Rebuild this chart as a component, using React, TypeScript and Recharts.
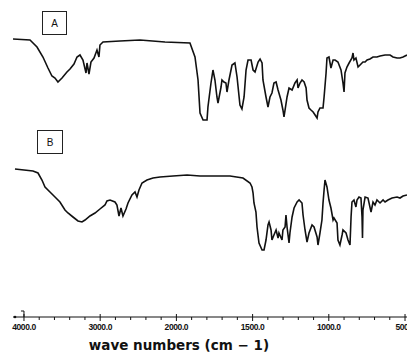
import React from "react";
import { LineChart, Line, XAxis, YAxis } from "recharts";

// ── Data (wavenumber cm-1 / relative transmittance) ──────────────────────
const aWave = [
  4144, 3921, 3829, 3751, 3685, 3633, 3593, 3554, 3501, 3436, 3396, 3344, 3304, 3265, 3226,
  3186, 3173, 3147, 3121, 3081, 3042, 3016, 3003, 2963, 2740, 2478, 2150, 1911, 1878, 1858,
  1845, 1825, 1799, 1793, 1773, 1760, 1747, 1734, 1727, 1707, 1701, 1688, 1675, 1668, 1655,
  1635, 1616, 1602, 1583, 1570, 1556, 1543, 1530, 1510, 1497, 1484, 1464, 1451, 1438, 1432,
  1412, 1399, 1386, 1373, 1360, 1346, 1333, 1314, 1301, 1294, 1274, 1261, 1241, 1222, 1208,
  1202, 1189, 1176, 1162, 1149, 1143, 1130, 1117, 1103, 1090, 1077, 1071, 1058, 1038, 1031,
  1018, 1012, 999, 986, 972, 959, 940, 920, 907, 900, 894, 881, 867, 848, 841,
  835, 822, 808, 795, 776, 762, 749, 730, 710, 684, 664, 631, 598, 579, 552,
  533, 513, 487,
];
const aT = [
  101, 100, 93, 83, 72, 64, 62, 58, 62, 68, 71, 76, 83, 85, 80,
  67, 77, 66, 78, 82, 90, 83, 95, 98, 99, 100, 98, 97, 83, 60,
  27, 20, 20, 33, 57, 70, 60, 43, 37, 53, 60, 58, 57, 48, 60,
  75, 77, 63, 35, 31, 43, 70, 80, 80, 70, 68, 78, 81, 77, 60,
  43, 33, 43, 47, 57, 58, 50, 40, 30, 23, 43, 52, 50, 57, 60,
  52, 57, 60, 58, 52, 40, 32, 30, 28, 25, 22, 28, 32, 32, 43,
  67, 82, 83, 72, 80, 80, 78, 70, 57, 48, 67, 73, 77, 82, 87,
  80, 82, 73, 75, 78, 78, 80, 81, 83, 83, 84, 85, 85, 83, 82,
  82, 83, 85,
];

const bWave = [
  4118, 3882, 3816, 3764, 3724, 3659, 3593, 3528, 3462, 3423, 3357, 3291, 3239, 3199, 3134,
  3068, 3003, 2937, 2911, 2871, 2806, 2780, 2753, 2727, 2701, 2661, 2635, 2583, 2543, 2517,
  2491, 2451, 2386, 2307, 2215, 2045, 1930, 1845, 1648, 1563, 1517, 1504, 1497, 1491, 1478,
  1471, 1458, 1438, 1425, 1412, 1399, 1392, 1379, 1373, 1360, 1346, 1333, 1327, 1307, 1301,
  1287, 1281, 1274, 1261, 1255, 1241, 1228, 1208, 1195, 1176, 1169, 1156, 1143, 1130, 1110,
  1097, 1077, 1071, 1058, 1045, 1038, 1031, 1025, 1012, 999, 986, 972, 966, 946, 940,
  927, 913, 907, 887, 874, 861, 854, 848, 835, 822, 815, 802, 789, 782, 779,
  776, 762, 743, 723, 710, 697, 684, 664, 644, 631, 612, 585, 552, 533, 513,
  487,
];
const bT = [
  101, 99, 97, 90, 83, 78, 73, 68, 60, 57, 53, 49, 48, 50, 54,
  57, 61, 65, 69, 70, 68, 65, 54, 62, 54, 61, 67, 75, 78, 73,
  80, 87, 90, 92, 93, 94, 95, 94, 94, 92, 87, 83, 77, 67, 58,
  43, 27, 20, 20, 30, 45, 48, 40, 30, 35, 40, 32, 37, 30, 40,
  43, 55, 43, 27, 37, 53, 62, 68, 70, 67, 55, 40, 28, 37, 45,
  43, 33, 25, 37, 50, 67, 80, 90, 83, 70, 62, 50, 52, 47, 30,
  25, 35, 40, 37, 30, 25, 53, 68, 70, 63, 70, 73, 72, 53, 32,
  60, 73, 72, 58, 68, 65, 70, 67, 70, 68, 70, 72, 73, 72, 74,
  75,
];

const majorWave = [4000, 3000, 2000, 1500, 1000, 500];
const majorLabels = ["4000.0", "3000.0", "2000.0", "1500.0", "1000.0", "500.0"];

// ── Scale: 1000 cm-1 per division above 2000, 500 cm-1 per division below ──
const toPos = (w: number) => (w >= 2000 ? (4000 - w) / 1000 : 2 + (2000 - w) / 500);

const minorWave: number[] = [];
for (let w = 3800; w > 2000; w -= 200) if (!majorWave.includes(w)) minorWave.push(w);
for (let w = 1900; w > 500; w -= 100) if (!majorWave.includes(w)) minorWave.push(w);

const majorPos = majorWave.map(toPos);
const allTicks = [...majorPos, ...minorWave.map(toPos)].sort((a, b) => a - b);

const aData = aWave.map((w, i) => ({ p: toPos(w), t: aT[i] }));
const bData = bWave.map((w, i) => ({ p: toPos(w), t: bT[i] }));

const W = 407;
const H = 353;
const BOTTOM = 36;
const PLOT_H = H - BOTTOM;

function AxisTick({ x, y, payload }: any) {
  const idx = majorPos.findIndex((m) => Math.abs(m - payload.value) < 1e-6);
  if (idx < 0) {
    return <line x1={x} x2={x} y1={y} y2={y + 3} stroke="#111" strokeWidth={1} />;
  }
  return (
    <g>
      <line x1={x} x2={x} y1={y - 3} y2={y + 4} stroke="#111" strokeWidth={1} />
      {idx === 0 && (
        <path d={`M${x - 3},${y - 6} L${x},${y - 6} L${x},${y}`} fill="none" stroke="#111" strokeWidth={1} />
      )}
      <text
        x={x}
        y={y + 13}
        textAnchor="middle"
        fontSize={8.5}
        fontWeight="bold"
        fontFamily="Liberation Sans, Arial, sans-serif"
        fill="#111"
        letterSpacing={-0.4}
      >
        {majorLabels[idx]}
      </text>
    </g>
  );
}

function Tag({ x, y, w, h, label }: { x: number; y: number; w: number; h: number; label: string }) {
  return (
    <g>
      <rect x={x} y={y} width={w} height={h} fill="#fff" stroke="#222" strokeWidth={1} />
      <text
        x={x + w / 2}
        y={y + h / 2 + 3.5}
        textAnchor="middle"
        fontSize={10}
        fontFamily="Liberation Sans, Arial, sans-serif"
        fill="#111"
      >
        {label}
      </text>
    </g>
  );
}

export default function App() {
  return (
    <div style={{ position: "absolute", left: 0, top: 0, width: W, height: H, background: "#fff" }}>
      <LineChart width={W} height={H} margin={{ top: 0, right: 0, left: 13, bottom: 0 }}>
        <XAxis
          type="number"
          dataKey="p"
          domain={[toPos(4144), toPos(487)]}
          allowDataOverflow
          ticks={allTicks}
          interval={0}
          tick={<AxisTick />}
          tickLine={false}
          tickSize={0}
          tickMargin={0}
          axisLine={{ stroke: "#111", strokeWidth: 1 }}
          height={BOTTOM}
        />
        <YAxis yAxisId="a" hide domain={[140 - PLOT_H, 140]} allowDataOverflow />
        <YAxis yAxisId="b" hide domain={[270 - PLOT_H, 270]} allowDataOverflow />
        <Line
          yAxisId="a"
          data={aData}
          dataKey="t"
          type="linear"
          stroke="#111"
          strokeWidth={1.6}
          dot={false}
          isAnimationActive={false}
        />
        <Line
          yAxisId="b"
          data={bData}
          dataKey="t"
          type="linear"
          stroke="#111"
          strokeWidth={1.6}
          dot={false}
          isAnimationActive={false}
        />
        <Tag x={42.5} y={11.5} w={24} h={23} label="A" />
        <Tag x={37.5} y={130.5} w={25} h={23} label="B" />
        <circle cx={15} cy={PLOT_H} r={1.3} fill="#111" />
        <text
          x={179}
          y={350}
          textAnchor="middle"
          fontSize={13.5}
          fontWeight="bold"
          fontFamily="DejaVu Sans, Verdana, sans-serif"
          fill="#111"
        >
          wave numbers (cm − 1)
        </text>
      </LineChart>
    </div>
  );
}
